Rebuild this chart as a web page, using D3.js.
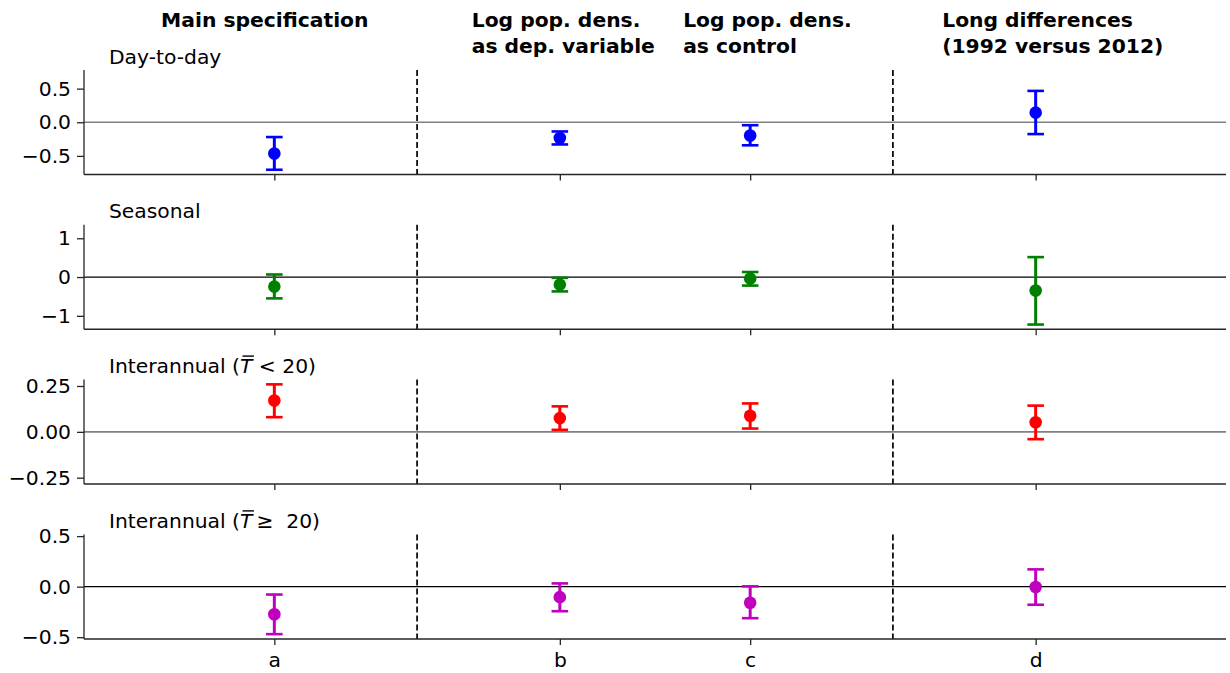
<!DOCTYPE html>
<html>
<head>
<meta charset="utf-8">
<script src="https://cdn.jsdelivr.net/npm/d3@7"></script>
<style>
  html, body { margin: 0; padding: 0; background: #fff; }
  svg text { font-family: "DejaVu Sans", sans-serif; fill: #000; }
</style>
</head>
<body>
<svg id="chart" width="1230" height="673"></svg>
<script>
// Specifications along the x axis
const categories = ["a", "b", "c", "d"];
const positions = [0, 1.5, 2.5, 4];
const dividers = [0.75, 3.25];

// Column headers (lines of text, left edge in x units)
const headerLines = [
  ["Main specification"],
  ["Log pop. dens.", "as dep. variable"],
  ["Log pop. dens.", "as control"],
  ["Long differences", "(1992 versus 2012)"]
];
const headerX = [-0.595, 1.037, 2.148, 3.509];

// Day-to-day
const dayEst = [-0.465, -0.235, -0.196, 0.143];
const dayLo  = [-0.706, -0.330, -0.343, -0.176];
const dayHi  = [-0.220, -0.137, -0.044, 0.466];
// Seasonal
const seasEst = [-0.246, -0.195, -0.040, -0.347];
const seasLo  = [-0.550, -0.370, -0.220, -1.225];
const seasHi  = [0.066, -0.020, 0.130, 0.514];
// Interannual, mean temperature below 20
const coolEst = [0.171, 0.075, 0.088, 0.052];
const coolLo  = [0.080, 0.011, 0.018, -0.040];
const coolHi  = [0.259, 0.139, 0.155, 0.143];
// Interannual, mean temperature at or above 20
const warmEst = [-0.273, -0.104, -0.159, -0.003];
const warmLo  = [-0.470, -0.243, -0.312, -0.179];
const warmHi  = [-0.078, 0.032, 0.003, 0.171];

const yTicks = [[-0.5, 0, 0.5], [-1, 0, 1], [-0.25, 0, 0.25], [-0.5, 0, 0.5]];
const yFormats = [".1f", "d", ".2f", ".1f"];

const panels = [
  { title: ["Day-to-day"], est: dayEst, lo: dayLo, hi: dayHi, color: "#0000ff", zero: "#808080", zeroW: 1.6 },
  { title: ["Seasonal"], est: seasEst, lo: seasLo, hi: seasHi, color: "#008000", zero: "#000", zeroW: 1.2 },
  { title: ["Interannual (", "T", " < 20)"], est: coolEst, lo: coolLo, hi: coolHi, color: "#ff0000", zero: "#808080", zeroW: 1.6 },
  { title: ["Interannual (", "T", "\u2265  20)"], est: warmEst, lo: warmLo, hi: warmHi, color: "#bf00bf", zero: "#000", zeroW: 1.2 }
];

const svg = d3.select("#chart");
svg.append("rect").attr("width", 1230).attr("height", 673).attr("fill", "#fff");

const left = 84, right = 1226;
const panelTop0 = 70, panelStep = 154.8, panelH = 104.5;
const axisColor = "#262626";
const fontSize = 20.3;

const x = d3.scaleLinear().domain([-1, 5]).range([left, right]);

// Column headers
headerLines.forEach((lines, i) => {
  const t = svg.append("text")
    .attr("x", x(headerX[i]))
    .attr("y", 27)
    .attr("font-size", fontSize)
    .attr("font-weight", "bold");
  lines.forEach((ln, j) => {
    t.append("tspan").attr("x", x(headerX[i])).attr("dy", j === 0 ? 0 : 26).text(ln);
  });
});

panels.forEach((p, i) => {
  const top = panelTop0 + i * panelStep;
  const bottom = top + panelH;
  const maxAbs = d3.max(p.lo.concat(p.hi), v => Math.abs(v)) * 1.1;
  const y = d3.scaleLinear().domain([-maxAbs, maxAbs]).range([bottom, top]);
  const g = svg.append("g");

  // zero reference line
  g.append("line")
    .attr("x1", left).attr("x2", right)
    .attr("y1", y(0)).attr("y2", y(0))
    .attr("stroke", p.zero).attr("stroke-width", p.zeroW);

  // dashed separators between specification groups
  g.selectAll("line.div").data(dividers).join("line")
    .attr("class", "div")
    .attr("x1", d => x(d)).attr("x2", d => x(d))
    .attr("y1", top).attr("y2", bottom)
    .attr("stroke", "#000").attr("stroke-width", 1.7)
    .attr("stroke-dasharray", "6,3");

  // y axis
  const yAxis = d3.axisLeft(y).tickValues(yTicks[i]).tickFormat(d3.format(yFormats[i]))
    .tickSize(7).tickPadding(6);
  const ya = g.append("g").attr("transform", `translate(${left},0)`).call(yAxis);
  ya.select(".domain").remove();
  ya.selectAll(".tick line").attr("stroke", axisColor).attr("stroke-width", 1.3);
  ya.selectAll(".tick text").attr("font-size", fontSize).attr("fill", "#000")
    .style("font-family", "'DejaVu Sans', sans-serif");
  g.append("line").attr("x1", left).attr("x2", left).attr("y1", top).attr("y2", bottom)
    .attr("stroke", axisColor).attr("stroke-width", 1.3);

  // x axis
  const xAxis = d3.axisBottom(x).tickValues(positions)
    .tickFormat((d, k) => i === panels.length - 1 ? categories[k] : "")
    .tickSize(6).tickPadding(8);
  const xa = g.append("g").attr("transform", `translate(0,${bottom})`).call(xAxis);
  xa.select(".domain").remove();
  xa.selectAll(".tick line").attr("stroke", axisColor).attr("stroke-width", 1.3);
  xa.selectAll(".tick text").attr("font-size", fontSize).attr("fill", "#000")
    .style("font-family", "'DejaVu Sans', sans-serif");
  g.append("line").attr("x1", left).attr("x2", right).attr("y1", bottom).attr("y2", bottom)
    .attr("stroke", axisColor).attr("stroke-width", 1.5);

  // error bars
  const idx = d3.range(categories.length);
  g.selectAll("line.err").data(idx).join("line")
    .attr("x1", k => x(positions[k])).attr("x2", k => x(positions[k]))
    .attr("y1", k => y(p.lo[k])).attr("y2", k => y(p.hi[k]))
    .attr("stroke", p.color).attr("stroke-width", 3);
  ["lo", "hi"].forEach(key => {
    g.selectAll("line.cap" + key).data(idx).join("line")
      .attr("x1", k => x(positions[k]) - 8.3).attr("x2", k => x(positions[k]) + 8.3)
      .attr("y1", k => y(p[key][k])).attr("y2", k => y(p[key][k]))
      .attr("stroke", p.color).attr("stroke-width", 2.6);
  });
  g.selectAll("circle").data(idx).join("circle")
    .attr("cx", k => x(positions[k])).attr("cy", k => y(p.est[k]))
    .attr("r", 6.3).attr("fill", p.color);

  // panel title
  const tx = left + 25, ty = top - 6.5;
  const t = g.append("text").attr("x", tx).attr("y", ty).attr("font-size", fontSize)
    .style("white-space", "pre");
  p.title.forEach((part, j) => {
    const ts = t.append("tspan").text(part);
    if (j === 1) ts.attr("font-style", "italic");
    if (j === 2 && part.charAt(0) !== " ") ts.attr("dx", 4);
  });
  if (p.title.length > 1) {
    const ci = p.title[0].length;
    const ext = t.node().getExtentOfChar(ci);
    g.append("line")
      .attr("x1", ext.x + 2.5).attr("x2", ext.x + ext.width + 1.5)
      .attr("y1", ty - 17).attr("y2", ty - 17)
      .attr("stroke", "#000").attr("stroke-width", 1.4);
  }
});
</script>
</body>
</html>
